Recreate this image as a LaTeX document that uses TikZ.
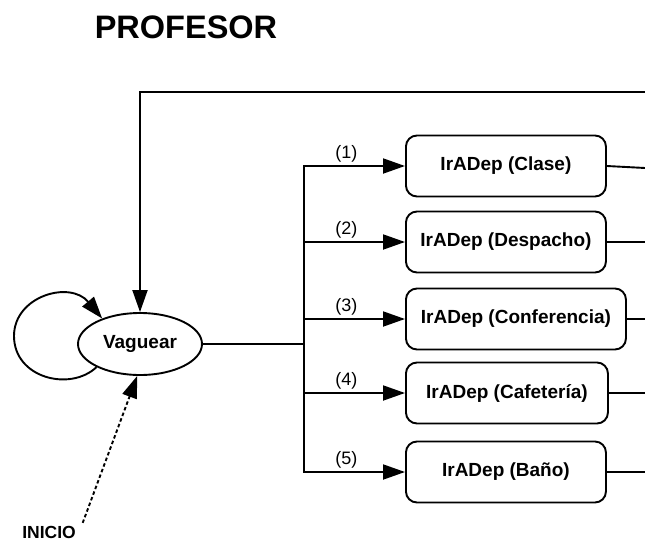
\documentclass[tikz,border=0pt]{standalone}
\usepackage{fontspec}
\setmainfont{Liberation Sans}
\usetikzlibrary{arrows.meta,shapes.geometric}
\begin{document}
\begin{tikzpicture}[x=1pt,y=-1pt,
  every path/.style={line width=1.9pt},
  tri/.style={-{Triangle[length=22pt,width=15pt]}},
  box/.style={draw,rounded corners=11pt,minimum height=61pt,inner sep=0pt,anchor=west,
     font=\fontsize{19}{22}\selectfont\bfseries},
  lbl/.style={font=\fontsize{18}{20}\selectfont,inner sep=1pt},
  state/.style={draw,ellipse,minimum width=124pt,minimum height=62pt,inner sep=0pt,
     font=\fontsize{19}{22}\selectfont\bfseries}]
\useasboundingbox (0,0) rectangle (645,543);
\node[font=\fontsize{32.5}{36}\selectfont\bfseries] (title) at (186,27) {PROFESOR};
\node[state] (v) at (140,344) {Vaguear};
\node[font=\fontsize{17.5}{20}\selectfont\bfseries,inner sep=0pt] (ini) at (49,532) {INICIO};
\coordinate (topr) at (645,92);
\coordinate (j) at (304,344);
\node[box,minimum width=200pt] (b1) at (405,166) {IrADep (Clase)};
\node[box,minimum width=200pt] (b2) at (405,242) {IrADep (Despacho)};
\node[box,minimum width=220pt] (b3) at (405,319) {IrADep (Conferencia)};
\node[box,minimum width=202pt] (b4) at (405,393) {IrADep (Cafetería)};
\node[box,minimum width=200pt] (b5) at (405,472) {IrADep (Baño)};
% top return line
\draw[tri] (topr) -| (v.north);
% self loop
\draw[tri] (v.208) .. controls (70,392) and (14,378) .. (14,336)
   .. controls (14,296) and (70,280) .. (v.146);
% initial
\draw[tri,dash pattern=on 3.5pt off 2.5pt] ([xshift=6pt,yshift=2pt]ini.north east) -- (v.265);
% branches
\draw (v.east) -- (j);
\draw[tri] (j) |- node[lbl,pos=0.71,above=2pt] {(1)} (b1.west);
\draw[tri] (j) |- node[lbl,pos=0.71,above=2pt] {(2)} (b2.west);
\draw[tri] (j) |- node[lbl,pos=0.71,above=2pt] {(3)} (b3.west);
\draw[tri] (j) |- node[lbl,pos=0.71,above=2pt] {(4)} (b4.west);
\draw[tri] (j) |- node[lbl,pos=0.71,above=2pt] {(5)} (b5.west);
% exits
\coordinate (e1) at (645,168);
\coordinate (e2) at (645,242);
\coordinate (e3) at (645,319);
\coordinate (e4) at (645,393);
\coordinate (e5) at (645,472);
\draw (b1.east) -- (e1);
\draw (b2.east) -- (e2);
\draw (b3.east) -- (e3);
\draw (b4.east) -- (e4);
\draw (b5.east) -- (e5);
\end{tikzpicture}
\end{document}
